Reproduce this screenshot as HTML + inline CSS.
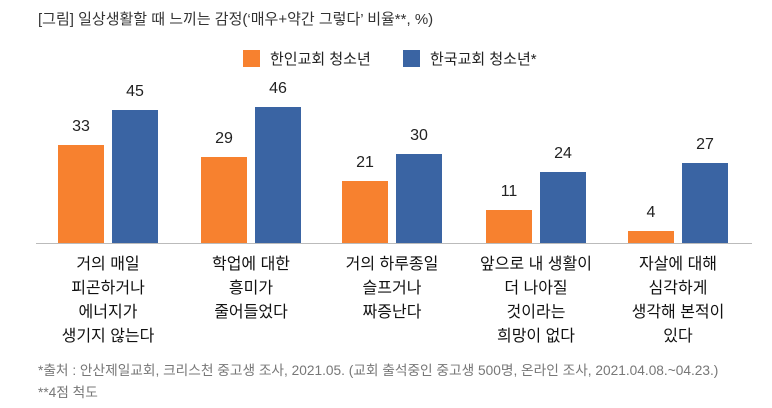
<!DOCTYPE html><html><head><meta charset="utf-8"><style>
body{margin:0;width:772px;height:408px;background:#fff;font-family:"Liberation Sans","Noto Sans CJK KR",sans-serif;position:relative;overflow:hidden}
.a{position:absolute;white-space:nowrap}
.b{position:absolute}
.o{background:#F7812F}.u{background:#3A64A3}
.v{position:absolute;width:60px;text-align:center;font-size:16px;color:#222}
.c{position:absolute;width:160px;text-align:center;font-size:16px;line-height:24px;color:#111}
</style></head><body>
<div class="a" style="left:38px;top:8px;font-size:15px;color:#333">[그림] 일상생활할 때 느끼는 감정(‘매우+약간 그렇다’ 비율**, %)</div>
<div class="b o" style="left:243px;top:50px;width:17px;height:17px"></div>
<div class="a" style="left:270px;top:48px;font-size:15px;color:#222">한인교회 청소년</div>
<div class="b u" style="left:403px;top:50px;width:17px;height:17px"></div>
<div class="a" style="left:430px;top:48px;font-size:15px;color:#222">한국교회 청소년*</div>
<div class="b" style="left:36px;top:243px;width:716px;height:1px;background:#bbb"></div>
<div id="g"></div>
<script>
var d=[[33,45],[29,46],[21,30],[11,24],[4,27]],x0=[58,201,342,486,628],h="";
var L=[["거의 매일","피곤하거나","에너지가","생기지 않는다"],["학업에 대한","흥미가","줄어들었다"],["거의 하루종일","슬프거나","짜증난다"],["앞으로 내 생활이","더 나아질","것이라는","희망이 없다"],["자살에 대해","심각하게","생각해 본적이","있다"]];
for(var i=0;i<5;i++){for(var j=0;j<2;j++){var x=x0[i]+j*54,hh=d[i][j]*2.956;h+='<div class="b '+(j?'u':'o')+'" style="left:'+x+'px;top:'+(243-hh)+'px;width:46px;height:'+hh+'px"></div><div class="v" style="left:'+(x-7)+'px;top:'+(243-hh-27)+'px">'+d[i][j]+'</div>';}
h+='<div class="c" style="left:'+(x0[i]+50-80)+'px;top:253px">'+L[i].join('<br>')+'</div>';}
document.getElementById('g').innerHTML=h;
</script>
<div class="a" style="left:38px;top:359px;font-size:13.7px;color:#777">*출처 : 안산제일교회, 크리스천 중고생 조사, 2021.05. (교회 출석중인 중고생 500명, 온라인 조사, 2021.04.08.~04.23.)</div>
<div class="a" style="left:38px;top:381px;font-size:13.7px;color:#777">**4점 척도</div>
</body></html>
